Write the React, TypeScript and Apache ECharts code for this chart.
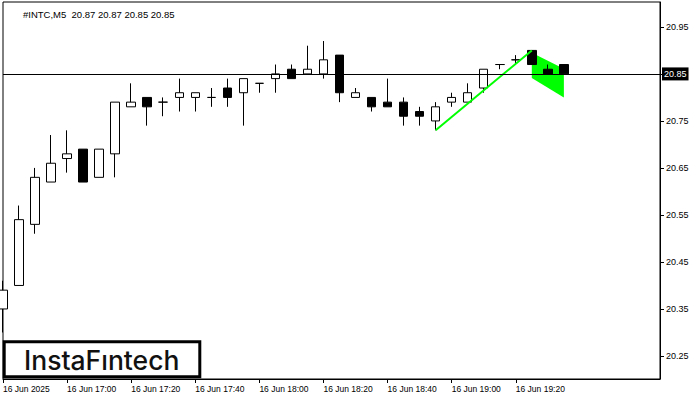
import { useEffect, useRef } from "react";
import * as echarts from "echarts";

// 5-minute bars, 16 Jun 2025 (last 6 slots are empty space to the right)
const times = [
  "16:40", "16:45", "16:50", "16:55", "17:00", "17:05", "17:10", "17:15", "17:20", "17:25",
  "17:30", "17:35", "17:40", "17:45", "17:50", "17:55", "18:00", "18:05", "18:10", "18:15",
  "18:20", "18:25", "18:30", "18:35", "18:40", "18:45", "18:50", "18:55", "19:00", "19:05",
  "19:10", "19:15", "19:20", "19:25", "19:30", "19:35", "19:40", "19:45", "19:50", "19:55",
  "20:00", "20:05",
];

const opens = [
  20.35, 20.40, 20.53, 20.62, 20.67, 20.69, 20.63, 20.68, 20.78, 20.80,
  20.79, 20.80, 20.80, 20.80, 20.82, 20.81, 20.83, 20.84, 20.86, 20.85,
  20.85, 20.89, 20.80, 20.80, 20.79, 20.79, 20.77, 20.75, 20.79, 20.79,
  20.82, 20.87, 20.88, 20.90, 20.86, 20.87,
];
const closes = [
  20.39, 20.54, 20.63, 20.66, 20.68, 20.62, 20.69, 20.79, 20.79, 20.78,
  20.79, 20.81, 20.81, 20.80, 20.80, 20.84, 20.83, 20.85, 20.84, 20.86,
  20.88, 20.81, 20.81, 20.78, 20.78, 20.76, 20.76, 20.78, 20.80, 20.81,
  20.86, 20.87, 20.88, 20.87, 20.85, 20.85,
];
const lows = [
  20.30, 20.40, 20.51, 20.62, 20.64, 20.62, 20.63, 20.63, 20.78, 20.74,
  20.76, 20.77, 20.77, 20.78, 20.78, 20.74, 20.81, 20.81, 20.84, 20.85,
  20.84, 20.79, 20.80, 20.77, 20.78, 20.74, 20.74, 20.73, 20.78, 20.79,
  20.81, 20.86, 20.87, 20.87, 20.85, 20.85,
];
const highs = [
  20.41, 20.57, 20.65, 20.72, 20.73, 20.69, 20.69, 20.79, 20.83, 20.80,
  20.80, 20.84, 20.81, 20.82, 20.84, 20.84, 20.83, 20.87, 20.87, 20.91,
  20.92, 20.89, 20.82, 20.80, 20.84, 20.80, 20.78, 20.79, 20.81, 20.83,
  20.86, 20.87, 20.89, 20.90, 20.87, 20.87,
];

const yTicks = [20.25, 20.35, 20.45, 20.55, 20.65, 20.75, 20.85, 20.95];
// 20.85 is shown by the last-price box instead of a plain label
const yLabels = [20.25, 20.35, 20.45, 20.55, 20.65, 20.75, 20.95];
const xLabelIdx = [0, 4, 8, 12, 16, 20, 24, 28, 32];
const xLabels = [
  "16 Jun 2025", "16 Jun 17:00", "16 Jun 17:20", "16 Jun 17:40", "16 Jun 18:00",
  "16 Jun 18:20", "16 Jun 18:40", "16 Jun 19:00", "16 Jun 19:20",
];

// Flag pattern: pole and flag
const poleX = [27, 33];
const poleY = [20.73, 20.90];
const flagX = [33, 35, 35, 33];
const flagY = [20.895, 20.861, 20.80, 20.8415];

const lastPrice = 20.85;
const titleText = "#INTC,M5  20.87 20.87 20.85 20.85";

export default function App() {
  const ref = useRef<HTMLDivElement>(null);
  useEffect(() => {
    if (!ref.current) return;
    const chart = echarts.init(ref.current, undefined, { renderer: "svg" });
    const candles = opens.map((o, i) => [o, closes[i], lows[i], highs[i]]);
    const font = "Liberation Sans";
    chart.setOption({
      animation: false,
      backgroundColor: "#fff",
      title: {
        text: titleText,
        left: 18,
        top: 4,
        textStyle: { fontSize: 9.5, fontWeight: "normal", color: "#000", fontFamily: font },
      },
      grid: {
        left: 3,
        right: 40,
        top: 2,
        bottom: 21,
        show: true,
        borderColor: "#000",
        borderWidth: 1,
        backgroundColor: "#fff",
        containLabel: false,
        outerBoundsMode: "none",
      },
      xAxis: {
        type: "category",
        data: times,
        boundaryGap: false,
        axisLine: { show: true, lineStyle: { color: "#000", width: 1 } },
        axisTick: {
          show: true,
          length: 4,
          interval: (i: number) => xLabelIdx.includes(i),
          lineStyle: { color: "#000" },
        },
        axisLabel: {
          interval: (i: number) => xLabelIdx.includes(i),
          formatter: (_v: string, i: number) => {
            const k = xLabelIdx.indexOf(i);
            return k >= 0 ? xLabels[k] : "";
          },
          align: "left",
          margin: 5,
          color: "#000",
          fontSize: 8.5,
          fontFamily: font,
          hideOverlap: false,
        },
        splitLine: { show: false },
      },
      yAxis: {
        type: "value",
        position: "right",
        min: 20.201,
        max: 21.003,
        scale: true,
        axisLine: { show: true, lineStyle: { color: "#000", width: 1 } },
        axisTick: { show: true, length: 4, customValues: yTicks, lineStyle: { color: "#000" } },
        axisLabel: {
          customValues: yLabels,
          formatter: (v: number) => v.toFixed(2),
          color: "#000",
          fontSize: 9,
          fontFamily: font,
          margin: 6,
        },
        splitLine: { show: false },
      },
      series: [
        {
          type: "custom",
          z: 1,
          coordinateSystem: "cartesian2d",
          data: [[flagX[0], flagY[0]]],
          renderItem: (_p: any, api: any) => ({
            type: "polygon",
            shape: { points: flagX.map((x, i) => api.coord([x, flagY[i]])) },
            style: { fill: "#00ff00", stroke: "none" },
          }),
          silent: true,
        },
        {
          type: "candlestick",
          z: 2,
          data: candles,
          barWidth: 9,
          clip: true,
          itemStyle: {
            color: "#fff",
            color0: "#000",
            borderColor: "#000",
            borderColor0: "#000",
            borderColorDoji: "#000",
            borderWidth: 1,
          },
          markLine: {
            silent: true,
            symbol: ["none", "none"],
            animation: false,
            lineStyle: { color: "#000", width: 1, type: "solid" },
            label: {
              show: true,
              position: "end",
              distance: 2,
              formatter: lastPrice.toFixed(2),
              backgroundColor: "#000",
              color: "#fff",
              padding: [2, 2, 2, 2],
              fontSize: 9,
              fontFamily: font,
            },
            data: [{ yAxis: lastPrice }],
          },
        },
        {
          type: "line",
          z: 3,
          data: poleX.map((x, i) => [x, poleY[i]]),
          symbol: "none",
          lineStyle: { color: "#00ff00", width: 2 },
          silent: true,
        },
      ],
      graphic: [
        {
          type: "rect",
          z: 100,
          shape: { x: 4.2, y: 341.8, width: 195.6, height: 35 },
          style: { fill: "#fff", stroke: "#000", lineWidth: 3 },
        },
        {
          type: "text",
          z: 101,
          x: 101.7,
          y: 359.5,
          style: {
            text: "InstaFıntech",
            font: "500 26.5px Inter",
            fill: "#111",
            textAlign: "center",
            textVerticalAlign: "middle",
          },
        },
      ],
    });
    return () => chart.dispose();
  }, []);
  return (
    <div
      ref={ref}
      style={{ position: "absolute", left: 0, top: 0, width: 700, height: 400 }}
    />
  );
}
